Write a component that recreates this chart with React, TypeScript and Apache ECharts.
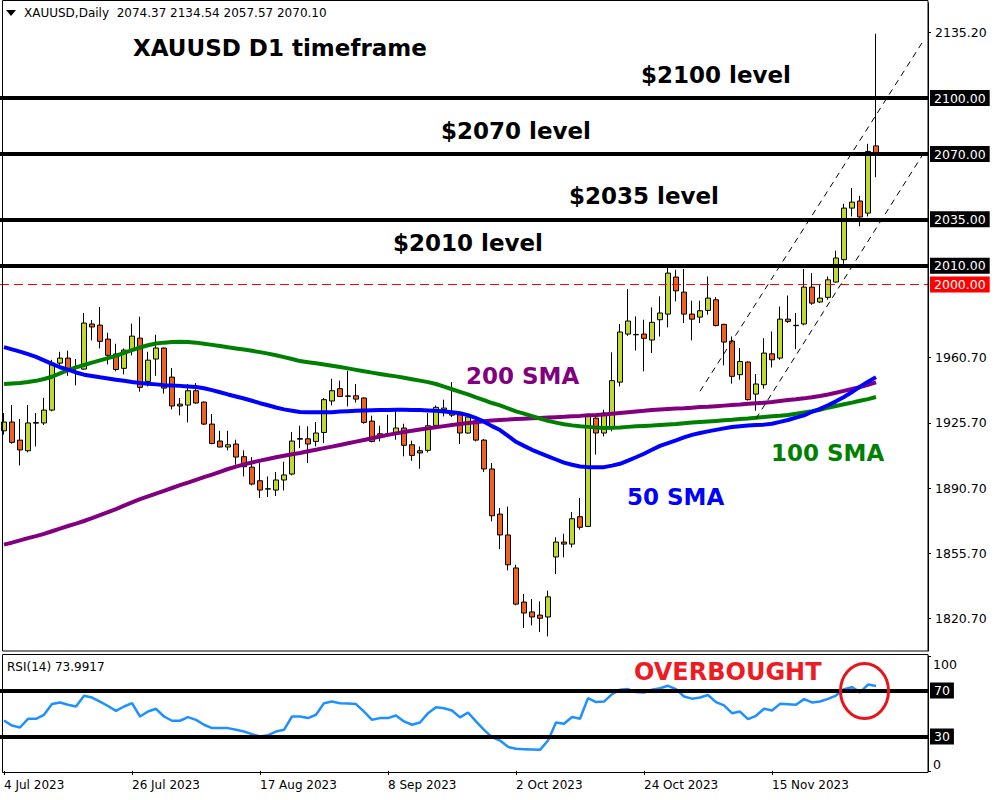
import React, { useEffect, useRef } from "react";
import * as echarts from "echarts";

// ---------- DATA ----------
const FIRST_DATE = "2023-07-04";
const SLOT_COUNT = 116; // 110 daily bars + empty space on the right
const MONTHS = ["Jan", "Feb", "Mar", "Apr", "May", "Jun", "Jul", "Aug", "Sep", "Oct", "Nov", "Dec"];

const barOpen = [
  1921.5, 1926.2, 1916.5, 1910.8, 1925.6, 1925.7, 1932.6, 1957.8, 1960.5, 1955.9,
  1954.6, 1978.8, 1978.2, 1970.7, 1962.7, 1955.0, 1964.8, 1971.2, 1948.0, 1960.0,
  1965.9, 1950.3, 1935.8, 1935.3, 1943.0, 1936.9, 1925.1, 1916.0, 1912.8, 1914.4,
  1907.6, 1902.0, 1894.7, 1890.2, 1889.7, 1895.1, 1898.3, 1917.0, 1917.2, 1915.8,
  1920.6, 1937.5, 1944.1, 1940.0, 1940.3, 1939.1, 1926.7, 1919.9, 1919.6, 1920.3,
  1923.0, 1914.0, 1910.8, 1911.0, 1924.4, 1932.8, 1931.0, 1930.1, 1920.3, 1926.9,
  1916.5, 1901.0, 1876.8, 1865.6, 1847.9, 1829.6, 1824.3, 1822.6, 1821.6, 1853.8,
  1861.8, 1860.7, 1875.4, 1870.2, 1928.3, 1920.3, 1923.0, 1947.6, 1973.4, 1973.0,
  1973.4, 1970.2, 1981.1, 1984.1, 2004.0, 1995.9, 1984.1, 1982.5, 1986.1, 1991.8,
  1978.6, 1969.6, 1951.6, 1958.4, 1941.2, 1946.2, 1962.8, 1960.5, 1981.4, 1977.9,
  1978.8, 1998.6, 1990.6, 1993.1, 2001.3, 2013.3, 2041.0, 2044.8, 2038.3, 2074.37,
];
const barHigh = [
  1931.0, 1935.3, 1927.8, 1935.3, 1931.0, 1939.2, 1959.6, 1963.9, 1964.5, 1960.0,
  1984.7, 1980.9, 1987.9, 1974.1, 1968.2, 1965.7, 1979.0, 1982.7, 1963.9, 1973.0,
  1966.2, 1955.2, 1939.1, 1946.6, 1947.1, 1937.2, 1930.5, 1921.5, 1921.5, 1916.7,
  1911.0, 1907.4, 1904.5, 1897.0, 1899.4, 1904.9, 1920.8, 1924.2, 1923.9, 1926.2,
  1939.1, 1949.4, 1948.4, 1953.7, 1946.6, 1939.4, 1929.6, 1924.2, 1930.1, 1933.7,
  1925.3, 1916.2, 1913.1, 1931.0, 1935.1, 1938.2, 1947.6, 1931.4, 1929.6, 1927.8,
  1917.1, 1904.2, 1880.0, 1880.8, 1849.6, 1833.9, 1831.2, 1830.0, 1835.7, 1864.3,
  1866.3, 1877.9, 1885.4, 1930.7, 1929.2, 1932.8, 1963.6, 1978.8, 1997.5, 1982.9,
  1981.1, 1987.7, 1993.6, 2009.3, 2007.9, 2008.3, 1991.3, 1991.3, 2004.3, 1993.2,
  1978.9, 1972.1, 1965.9, 1958.7, 1951.9, 1971.2, 1974.8, 1988.2, 1994.1, 1984.7,
  2008.3, 2006.1, 1999.9, 2004.3, 2018.1, 2043.3, 2051.7, 2047.6, 2075.5, 2134.54,
];
const barLow = [
  1919.5, 1914.6, 1902.9, 1909.9, 1913.1, 1924.6, 1932.0, 1956.0, 1951.0, 1945.9,
  1954.3, 1970.0, 1965.7, 1957.1, 1953.4, 1951.8, 1962.0, 1942.5, 1945.3, 1951.0,
  1941.4, 1933.0, 1929.8, 1926.0, 1936.0, 1924.6, 1914.2, 1912.6, 1911.0, 1903.3,
  1897.0, 1892.2, 1885.5, 1886.0, 1886.5, 1889.5, 1897.6, 1912.2, 1904.2, 1913.1,
  1914.9, 1935.1, 1939.6, 1934.6, 1936.7, 1925.3, 1915.3, 1915.8, 1918.5, 1916.7,
  1907.8, 1905.4, 1901.1, 1909.9, 1923.9, 1929.2, 1928.9, 1914.4, 1919.9, 1915.8,
  1899.4, 1872.9, 1858.0, 1846.6, 1827.8, 1815.7, 1817.1, 1813.5, 1811.2, 1844.6,
  1853.6, 1858.9, 1868.4, 1869.9, 1908.7, 1918.5, 1921.2, 1945.3, 1972.5, 1964.6,
  1953.4, 1963.2, 1972.1, 1977.0, 1990.9, 1979.3, 1970.0, 1979.3, 1983.8, 1977.5,
  1956.6, 1946.8, 1948.9, 1937.8, 1932.3, 1944.1, 1955.5, 1959.6, 1979.3, 1965.3,
  1978.1, 1989.1, 1990.0, 1991.8, 2001.1, 2011.1, 2036.5, 2031.2, 2036.5, 2057.57,
];
const barClose = [
  1926.2, 1915.3, 1911.2, 1925.7, 1925.9, 1932.6, 1957.8, 1960.5, 1953.4, 1955.5,
  1979.3, 1977.2, 1969.5, 1962.0, 1954.4, 1964.8, 1972.3, 1944.8, 1959.4, 1965.9,
  1944.4, 1934.8, 1934.8, 1943.0, 1936.4, 1925.1, 1914.7, 1912.8, 1914.0, 1907.4,
  1902.2, 1892.9, 1889.7, 1890.4, 1895.1, 1897.8, 1916.0, 1917.3, 1914.4, 1920.3,
  1938.2, 1943.0, 1939.9, 1940.2, 1938.5, 1926.0, 1915.8, 1919.0, 1919.8, 1923.0,
  1913.7, 1908.3, 1909.6, 1924.2, 1934.1, 1933.7, 1929.9, 1920.3, 1928.9, 1916.5,
  1901.0, 1875.9, 1865.6, 1849.6, 1828.5, 1823.7, 1821.6, 1820.9, 1832.4, 1861.8,
  1860.7, 1874.3, 1869.7, 1930.1, 1920.3, 1931.0, 1948.4, 1974.5, 1980.4, 1973.2,
  1971.1, 1979.7, 1984.7, 2006.1, 1996.6, 1984.1, 1981.4, 1985.9, 1992.7, 1978.0,
  1969.1, 1950.7, 1958.7, 1938.2, 1946.6, 1963.2, 1959.6, 1981.4, 1980.2, 1978.1,
  1998.6, 1990.0, 1992.7, 2002.5, 2014.2, 2041.0, 2044.2, 2036.2, 2071.4, 2070.10,
];

const sma50 = [
  1966.4, 1965.2, 1964.0, 1962.6, 1961.2, 1959.3, 1957.4, 1955.6, 1954.3, 1952.8,
  1951.6, 1950.9, 1950.2, 1949.6, 1948.9, 1948.3, 1947.7, 1947.2, 1946.8, 1946.4,
  1946.0, 1945.8, 1945.6, 1945.3, 1945.0, 1944.3, 1943.3, 1942.2, 1941.0, 1939.9,
  1938.8, 1937.6, 1936.3, 1935.2, 1934.0, 1933.0, 1932.3, 1931.6, 1931.4, 1931.4,
  1931.4, 1931.5, 1931.8, 1932.0, 1932.2, 1932.4, 1932.5, 1932.6, 1932.7, 1932.8,
  1932.8, 1932.7, 1932.6, 1932.4, 1932.2, 1931.9, 1931.5, 1930.9, 1929.9, 1928.3,
  1926.4, 1924.0, 1921.9, 1918.8, 1915.6, 1913.4, 1911.3, 1909.5, 1907.8, 1906.1,
  1904.4, 1903.3, 1902.3, 1902.0, 1901.9, 1902.0, 1902.8, 1903.8, 1905.5, 1907.3,
  1909.2, 1911.3, 1913.4, 1914.9, 1916.4, 1918.0, 1919.3, 1920.3, 1921.2, 1922.0,
  1922.8, 1923.5, 1923.9, 1924.3, 1924.6, 1924.8, 1925.3, 1926.3, 1927.3, 1928.6,
  1929.8, 1931.7, 1933.3, 1935.2, 1937.3, 1939.6, 1942.3, 1945.2, 1947.8, 1950.3,
];
const sma100 = [
  1946.6, 1946.9, 1947.2, 1947.7, 1948.3, 1949.3, 1950.5, 1952.3, 1954.0, 1955.5,
  1956.8, 1958.1, 1959.3, 1960.5, 1961.7, 1963.3, 1964.8, 1966.2, 1967.4, 1968.3,
  1968.8, 1969.1, 1969.3, 1969.2, 1968.8, 1968.2, 1967.6, 1967.0, 1966.3, 1965.7,
  1965.1, 1964.4, 1963.7, 1962.9, 1962.0, 1961.0, 1960.0, 1958.9, 1958.3, 1957.7,
  1957.1, 1956.4, 1955.7, 1955.0, 1954.2, 1953.4, 1952.7, 1952.0, 1951.3, 1950.7,
  1950.0, 1949.2, 1948.4, 1947.6, 1946.6, 1945.2, 1943.8, 1942.4, 1941.0, 1939.4,
  1938.0, 1936.4, 1935.1, 1933.5, 1931.9, 1930.7, 1929.4, 1928.1, 1926.8, 1925.9,
  1925.0, 1924.4, 1923.9, 1923.6, 1923.2, 1923.0, 1923.1, 1923.3, 1923.6, 1923.9,
  1924.1, 1924.3, 1924.6, 1924.9, 1925.2, 1925.6, 1925.9, 1926.2, 1926.5, 1926.8,
  1927.1, 1927.4, 1927.8, 1928.1, 1928.5, 1928.9, 1929.3, 1929.6, 1930.0, 1930.6,
  1931.3, 1932.0, 1932.8, 1933.9, 1934.8, 1935.7, 1936.6, 1937.6, 1938.5, 1939.6,
];
const sma200 = [
  1860.4, 1861.5, 1862.7, 1863.9, 1865.0, 1866.2, 1867.6, 1869.0, 1870.4, 1871.7,
  1873.1, 1874.6, 1876.2, 1877.8, 1879.5, 1881.3, 1883.1, 1884.8, 1886.3, 1887.8,
  1889.3, 1890.8, 1892.3, 1893.7, 1895.2, 1896.6, 1898.0, 1899.5, 1901.0, 1902.3,
  1903.5, 1904.5, 1905.5, 1906.4, 1907.3, 1908.1, 1908.9, 1909.6, 1910.5, 1911.3,
  1912.2, 1913.0, 1913.9, 1914.8, 1915.7, 1916.6, 1917.5, 1918.4, 1919.3, 1920.1,
  1920.8, 1921.5, 1922.2, 1922.8, 1923.4, 1924.0, 1924.6, 1925.2, 1925.7, 1926.1,
  1926.6, 1927.0, 1927.3, 1927.5, 1927.8, 1928.0, 1928.2, 1928.4, 1928.6, 1928.8,
  1929.0, 1929.3, 1929.5, 1929.8, 1930.0, 1930.3, 1930.7, 1931.1, 1931.5, 1931.9,
  1932.2, 1932.6, 1932.9, 1933.2, 1933.4, 1933.6, 1933.9, 1934.2, 1934.4, 1934.7,
  1935.0, 1935.3, 1935.6, 1936.0, 1936.3, 1936.6, 1937.0, 1937.5, 1938.0, 1938.4,
  1938.9, 1939.5, 1940.2, 1941.0, 1941.9, 1942.9, 1943.9, 1944.9, 1946.2, 1947.5,
];
const rsi14 = [
  43.9, 39.5, 37.8, 45.4, 45.4, 48.9, 58.2, 59.6, 57.6, 56.1,
  65.4, 63.9, 60.4, 56.5, 52.3, 56.1, 59.0, 47.4, 51.7, 54.1,
  47.4, 43.7, 43.7, 46.9, 44.5, 40.2, 37.3, 37.3, 37.3, 35.8,
  34.3, 32.1, 30.0, 31.2, 34.3, 35.8, 47.4, 47.4, 46.0, 48.9,
  59.0, 60.4, 59.0, 58.6, 58.2, 51.7, 44.5, 46.0, 46.0, 48.3,
  43.1, 40.2, 42.2, 50.3, 55.5, 54.6, 52.6, 46.6, 50.9, 43.1,
  35.8, 29.5, 26.5, 21.0, 19.3, 19.0, 18.7, 18.4, 26.5, 42.2,
  41.1, 46.9, 45.4, 63.4, 59.9, 60.4, 66.9, 70.6, 71.2, 68.6,
  68.3, 70.6, 72.0, 74.1, 71.2, 64.8, 62.9, 63.9, 66.1, 59.9,
  57.0, 50.3, 51.7, 45.1, 48.0, 54.1, 52.6, 58.4, 58.0, 57.6,
  62.5, 59.6, 60.4, 62.7, 65.6, 71.2, 72.9, 68.3, 75.2, 74.0,
];

const keyLevels = [2100, 2070, 2035, 2010];
const roundLevel = 2000;
const priceTicks = [1820.7, 1855.7, 1890.7, 1925.7, 1960.7, 2135.2];
const rsiBands = [70, 30];
const rsiTicks = [0, 100];
// channel lines: [bar index, price] for start and end
const channelUpper = [[87, 1942.7], [115, 2131.3]];
const channelLower = [[94, 1928.0], [115, 2070.8]];

// ---------- HELPERS ----------
function tradingDays(start: string, n: number): string[] {
  const out: string[] = [];
  const d = new Date(start + "T00:00:00Z");
  while (out.length < n) {
    const wd = d.getUTCDay();
    if (wd !== 0 && wd !== 6) {
      out.push(`${d.getUTCDate()} ${MONTHS[d.getUTCMonth()]} ${d.getUTCFullYear()}`);
    }
    d.setUTCDate(d.getUTCDate() + 1);
  }
  return out;
}

const FONT = '"DejaVu Sans", Verdana, sans-serif';
const BULL = "#c3d82e";
const BEAR = "#f26021";

export default function App() {
  const ref = useRef<HTMLDivElement>(null);

  useEffect(() => {
    if (!ref.current) return;
    const chart = echarts.init(ref.current, undefined, { renderer: "svg" });
    const dates = tradingDays(FIRST_DATE, SLOT_COUNT);
    const barCount = barOpen.length;
    const candles = barOpen.map((o, i) => [o, barClose[i], barLow[i], barHigh[i]]);
    const showTick = (idx: number) => idx % 16 === 0 && idx < barCount;

    const boxLabel = (text: string, bg: string) => ({
      show: true,
      position: "end",
      distance: 2,
      formatter: text,
      color: "#fff",
      backgroundColor: bg,
      padding: [2, 4, 1, 4],
      fontSize: 12.5,
      fontFamily: FONT,
    });

    const levelMarks: any[] = keyLevels.map((v) => ({
      yAxis: v,
      lineStyle: { color: "#000", width: 4, type: "solid" },
      label: boxLabel(v.toFixed(2), "#000"),
    }));
    const channelMark = (pts: number[][]) => [
      {
        coord: [dates[pts[0][0]], pts[0][1]],
        lineStyle: { color: "#000", width: 1, type: [6, 5] },
        label: { show: false },
      },
      { coord: [dates[pts[1][0]], pts[1][1]] },
    ];

    const text = (t: string, x: number, y: number, font: string, fill: string) => ({
      type: "text",
      x,
      y,
      silent: true,
      z: 60,
      style: { text: t, font, fill, verticalAlign: "middle", align: "left" },
    });

    const option: any = {
      animation: false,
      backgroundColor: "#ffffff",
      textStyle: { fontFamily: FONT },
      grid: [
        { left: 0, top: 3, width: 928, height: 648, outerBoundsMode: "none" },
        { left: 0, top: 656, width: 928, height: 115, outerBoundsMode: "none" },
      ],
      xAxis: [
        { type: "category", gridIndex: 0, data: dates, boundaryGap: true, show: false },
        {
          type: "category",
          gridIndex: 1,
          data: dates,
          boundaryGap: true,
          offset: 2,
          axisLine: { show: false },
          axisTick: { show: true, alignWithLabel: true, length: 4, interval: showTick, lineStyle: { color: "#000" } },
          axisLabel: { interval: showTick, align: "left", margin: 6, color: "#000", fontSize: 12, fontFamily: FONT },
          splitLine: { show: false },
        },
      ],
      yAxis: [
        {
          type: "value",
          gridIndex: 0,
          position: "right",
          min: 1803.34,
          max: 2151.04,
          splitLine: { show: false },
          axisLine: { show: true, lineStyle: { color: "#000" } },
          axisTick: { show: true, length: 3, customValues: priceTicks, lineStyle: { color: "#000" } },
          axisLabel: {
            customValues: priceTicks,
            formatter: (v: number) => v.toFixed(2),
            margin: 7,
            color: "#000",
            fontSize: 12.5,
            fontFamily: FONT,
          },
        },
        {
          type: "value",
          gridIndex: 1,
          position: "right",
          min: 0,
          max: 100,
          splitLine: { show: false },
          axisLine: { show: true, lineStyle: { color: "#000" } },
          axisTick: { show: true, length: 3, customValues: rsiTicks, lineStyle: { color: "#000" } },
          axisLabel: {
            customValues: rsiTicks,
            margin: 5,
            formatter: (v: number) => (v === 100 ? "{a|100}" : "{b|0}"),
            rich: {
              a: { padding: [16, 0, 0, 0], fontSize: 12.5, color: "#000", fontFamily: FONT },
              b: { padding: [0, 0, 14, 0], fontSize: 12.5, color: "#000", fontFamily: FONT },
            },
          },
        },
      ],
      series: [
        {
          name: "XAUUSD",
          type: "candlestick",
          xAxisIndex: 0,
          yAxisIndex: 0,
          data: candles,
          barWidth: 5,
          silent: true,
          itemStyle: { color: BULL, color0: BEAR, borderColor: "#000", borderColor0: "#000", borderWidth: 1 },
          markLine: {
            symbol: ["none", "none"],
            silent: true,
            animation: false,
            data: [...levelMarks, channelMark(channelUpper), channelMark(channelLower)],
          },
          z: 3,
        },
        {
          name: "200 SMA",
          type: "line",
          xAxisIndex: 0,
          yAxisIndex: 0,
          data: sma200,
          showSymbol: false,
          symbol: "none",
          silent: true,
          color: "#800080",
          lineStyle: { color: "#800080", width: 4 },
          z: 4,
        },
        {
          name: "100 SMA",
          type: "line",
          xAxisIndex: 0,
          yAxisIndex: 0,
          data: sma100,
          showSymbol: false,
          symbol: "none",
          silent: true,
          color: "#008000",
          lineStyle: { color: "#008000", width: 4 },
          z: 4,
        },
        {
          name: "50 SMA",
          type: "line",
          xAxisIndex: 0,
          yAxisIndex: 0,
          data: sma50,
          showSymbol: false,
          symbol: "none",
          silent: true,
          color: "#0000ff",
          lineStyle: { color: "#0000ff", width: 4 },
          z: 4,
        },
        {
          // round-number reference level (red dashed)
          name: "Round level",
          type: "line",
          xAxisIndex: 0,
          yAxisIndex: 0,
          data: [],
          silent: true,
          color: "#ff0000",
          markLine: {
            symbol: ["none", "none"],
            silent: true,
            animation: false,
            lineStyle: { color: "#ff0000", width: 1, type: [9, 5], opacity: 1 },
            label: boxLabel(roundLevel.toFixed(2), "#ff0000"),
            data: [{ yAxis: roundLevel }],
          },
          z: 3,
        },
        {
          name: "RSI(14)",
          type: "line",
          xAxisIndex: 1,
          yAxisIndex: 1,
          data: rsi14,
          showSymbol: false,
          symbol: "none",
          silent: true,
          color: "#1e90ff",
          lineStyle: { color: "#1e90ff", width: 2.5 },
          markLine: {
            symbol: ["none", "none"],
            silent: true,
            animation: false,
            data: rsiBands.map((v) => ({
              yAxis: v,
              lineStyle: { color: "#000", width: 4, type: "solid" },
              label: boxLabel(String(v), "#000"),
            })),
          },
          z: 4,
        },
      ],
      graphic: [
        { type: "rect", silent: true, z: 100, shape: { x: 2.5, y: 0.5, width: 925.5, height: 650.5 }, style: { fill: "none", stroke: "#000", lineWidth: 1 } },
        { type: "rect", silent: true, z: 100, shape: { x: 2.5, y: 654.5, width: 925.5, height: 118 }, style: { fill: "none", stroke: "#000", lineWidth: 1 } },
        { type: "polygon", silent: true, z: 60, shape: { points: [[6, 10], [16, 10], [11, 16]] }, style: { fill: "#000" } },
        text("XAUUSD,Daily  2074.37 2134.54 2057.57 2070.10", 24, 13, `12px ${FONT}`, "#000"),
        text("XAUUSD D1 timeframe", 133, 48, `bold 23px ${FONT}`, "#000"),
        text("$2100 level", 641, 75, `bold 23px ${FONT}`, "#000"),
        text("$2070 level", 441, 131, `bold 23px ${FONT}`, "#000"),
        text("$2035 level", 569, 196, `bold 23px ${FONT}`, "#000"),
        text("$2010 level", 393, 243, `bold 23px ${FONT}`, "#000"),
        text("200 SMA", 466, 376, `bold 23px ${FONT}`, "#800080"),
        text("100 SMA", 771, 453, `bold 23px ${FONT}`, "#008000"),
        text("50 SMA", 627, 497, `bold 23px ${FONT}`, "#0000ff"),
        text("RSI(14) 73.9917", 7, 667, `12px ${FONT}`, "#000"),
        text("OVERBOUGHT", 634, 672, `bold 24px ${FONT}`, "#ed1c24"),
        { type: "ellipse", silent: true, z: 60, shape: { cx: 864.5, cy: 691, rx: 24, ry: 27.5 }, style: { fill: "none", stroke: "#e8141c", lineWidth: 3 } },
      ],
    };

    chart.setOption(option);
    return () => chart.dispose();
  }, []);

  return (
    <div
      ref={ref}
      style={{ position: "absolute", left: 0, top: 0, width: 1000, height: 800, background: "#fff" }}
    />
  );
}
